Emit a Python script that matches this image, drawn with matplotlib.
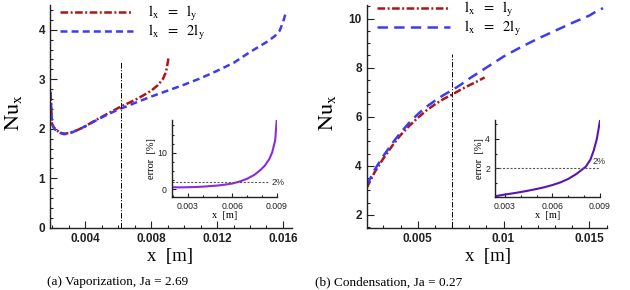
import matplotlib
matplotlib.use("Agg")
import matplotlib.pyplot as plt
from matplotlib.ticker import MultipleLocator, FixedLocator

plt.rcParams['font.family'] = ['Liberation Sans', 'DejaVu Sans']
plt.rcParams['mathtext.fontset'] = 'stix'
plt.rcParams['lines.scale_dashes'] = False

# ---------------- data: panel (a) vaporization ----------------
a_red_x = [0.00188, 0.00192, 0.00197, 0.0021, 0.0024, 0.0027, 0.003, 0.0035, 0.004, 0.0045,
           0.005, 0.0055, 0.006, 0.0065, 0.007, 0.0075, 0.008, 0.0084, 0.0087, 0.0089, 0.00905]
a_red_y = [2.72, 2.45, 2.1, 2.02, 1.93, 1.9, 1.91, 1.97, 2.05, 2.15,
           2.24, 2.33, 2.42, 2.5, 2.58, 2.67, 2.77, 2.88, 3.0, 3.15, 3.43]
a_blue_x = [0.00188, 0.00192, 0.00197, 0.0021, 0.0024, 0.0027, 0.003, 0.0035, 0.004, 0.0045,
            0.005, 0.0055, 0.006, 0.0065, 0.007, 0.008, 0.009, 0.01, 0.011, 0.012, 0.013,
            0.014, 0.015, 0.0155, 0.0158, 0.016, 0.0162]
a_blue_y = [2.75, 2.45, 2.1, 2.0, 1.92, 1.89, 1.9, 1.97, 2.05, 2.14,
            2.23, 2.31, 2.39, 2.45, 2.52, 2.65, 2.77, 2.89, 3.02, 3.17, 3.33,
            3.55, 3.75, 3.87, 3.98, 4.15, 4.37]
a_err_x = [0.00192, 0.0025, 0.003, 0.0035, 0.004, 0.0045, 0.005, 0.0055, 0.006, 0.0065,
           0.007, 0.0075, 0.0079, 0.0082, 0.0085, 0.0087, 0.0089, 0.009]
a_err_y = [0.6, 0.55, 0.6, 0.65, 0.75, 0.9, 1.05, 1.3, 1.6, 2.15,
           2.9, 4.0, 5.3, 6.5, 8.3, 10.2, 13.5, 18.9]
a_vline = 0.00618
a_caption = "(a) Vaporization, Ja = 2.69"

# ---------------- data: panel (b) condensation ----------------
b_red_x = [0.00203, 0.0025, 0.003, 0.0035, 0.004, 0.0045, 0.005, 0.0055, 0.006, 0.0065,
           0.007, 0.0075, 0.008, 0.0085, 0.0089]
b_red_y = [3.1, 3.75, 4.3, 4.8, 5.25, 5.62, 5.95, 6.25, 6.5, 6.72,
           6.9, 7.1, 7.28, 7.45, 7.6]
b_blue_x = [0.00203, 0.0025, 0.003, 0.0035, 0.004, 0.0045, 0.005, 0.0055, 0.006, 0.0065,
            0.007, 0.0075, 0.008, 0.009, 0.01, 0.011, 0.012, 0.013, 0.014, 0.015, 0.0155, 0.0158]
b_blue_y = [3.2, 3.85, 4.4, 4.9, 5.35, 5.75, 6.1, 6.4, 6.65, 6.88,
            7.08, 7.3, 7.55, 8.0, 8.45, 8.83, 9.18, 9.5, 9.82, 10.12, 10.33, 10.42]
b_err_x = [0.00237, 0.003, 0.0035, 0.004, 0.0045, 0.005, 0.0055, 0.006, 0.0065, 0.007,
           0.0075, 0.0078, 0.0081, 0.0084, 0.0086, 0.0088, 0.009]
b_err_y = [0.08, 0.2, 0.28, 0.37, 0.47, 0.58, 0.7, 0.85, 1.03, 1.27,
           1.6, 1.85, 2.1, 2.6, 3.2, 4.0, 5.26]
b_vline = 0.00698
b_caption = "(b) Condensation, Ja = 0.27"

labels = [r'$\mathrm{l_x\ \ =\ \ l_y}$', r'$\mathrm{l_x\ \ =\ \ 2l_y}$']
threshold = 2.0

RED = '#b01414'
BLUE = '#3c3cf0'
TICK_COLOR = '#222222'

W, H = 630, 290
fig = plt.figure(figsize=(6.3, 2.9), dpi=100)


def rect(l, r, t, b):
    return [l / W, 1 - b / H, (r - l) / W, (b - t) / H]


def style_axes(ax, fs, major_len, minor_len, bold=False):
    for s in ('top', 'right'):
        ax.spines[s].set_visible(False)
    for s in ('left', 'bottom'):
        ax.spines[s].set_linewidth(1.0)
        ax.spines[s].set_color('#222222')
    ax.tick_params(which='both', direction='in', top=False, right=False,
                   labelsize=fs, colors=TICK_COLOR, width=0.8)
    ax.tick_params(which='major', length=major_len)
    ax.tick_params(which='minor', length=minor_len)
    if bold:
        for lab in ax.get_xticklabels() + ax.get_yticklabels():
            lab.set_fontweight('bold')


serif = ['Liberation Serif', 'DejaVu Serif']

# ================= panel (a) =================
ax1 = fig.add_axes(rect(50, 292, 5, 227.7))
ax1.plot(a_red_x, a_red_y, color=RED, lw=1.8, dashes=(5.5, 1.8, 1.4, 1.8), label=labels[0])
ax1.plot(a_blue_x, a_blue_y, color=BLUE, lw=1.8, dashes=(5.0, 3.0), label=labels[1])
ax1.plot([a_vline, a_vline], [0, 3.35], color='black', lw=0.7, dashes=(4, 1.2, 0.8, 1.2))
ax1.set_xlim(0.00185, 0.01655)
ax1.set_ylim(0, 4.5)
ax1.xaxis.set_major_locator(FixedLocator([0.004, 0.008, 0.012, 0.016]))
ax1.xaxis.set_minor_locator(MultipleLocator(0.001))
ax1.yaxis.set_major_locator(MultipleLocator(1))
ax1.yaxis.set_minor_locator(MultipleLocator(0.2))
ax1.set_xticklabels(['0.004', '0.008', '0.012', '0.016'])
ax1.set_yticks([0, 1, 2, 3, 4])
ax1.set_yticklabels(['0', '1', '2', '3', '4'])
style_axes(ax1, 8.5, 5, 2.5, bold=True)
ax1.legend(loc='upper left', bbox_to_anchor=(60 / W, 1 - 4 / H), bbox_transform=fig.transFigure,
           frameon=False, borderpad=0, borderaxespad=0, handlelength=5.0, handletextpad=1.0,
           labelspacing=0.0, prop={'size': 10.5})
fig.text(13 / W, 1 - 113 / H, r'$\mathrm{Nu_x}$', rotation=90, ha='center', va='center', fontsize=16)
fig.text(170 / W, 1 - 257 / H, 'x  [m]', family=serif, ha='center', va='center', fontsize=13.5)
fig.text(118 / W, 1 - 276 / H, a_caption, family=serif, ha='center', va='top', fontsize=9.5)

ins1 = fig.add_axes(rect(171.7, 276.7, 120, 196.7))
ins1.plot(a_err_x, a_err_y, color='#8a2be2', lw=1.5)
ins1.plot([0.00192, 0.0085], [threshold, threshold], color='#555555', lw=0.8, dashes=(1.5, 1.2))
ins1.text(0.00863, threshold, '2%', fontsize=6.5, color='#333333', va='center', ha='left', clip_on=False)
ins1.set_xlim(0.00192, 0.009)
ins1.set_ylim(-2, 19)
ins1.xaxis.set_major_locator(FixedLocator([0.003, 0.006, 0.009]))
ins1.xaxis.set_minor_locator(MultipleLocator(0.001))
ins1.yaxis.set_major_locator(FixedLocator([0, 10]))
ins1.yaxis.set_minor_locator(MultipleLocator(2.5))
ins1.set_xticklabels(['0.003', '0.006', '0.009'])
ins1.set_yticklabels(['0', '10'])
style_axes(ins1, 6.3, 3, 1.5)
ins1.set_xlabel('x  [m]', family=serif, fontsize=7.5, labelpad=0)
ins1.set_ylabel('error  [%]', family=serif, fontsize=7.5, labelpad=1)

# ================= panel (b) =================
ax2 = fig.add_axes(rect(366.7, 606.7, 5, 227.7))
ax2.plot(b_red_x, b_red_y, color=RED, lw=1.8, dashes=(5.5, 1.8, 1.4, 1.8), label=labels[0])
ax2.plot(b_blue_x, b_blue_y, color=BLUE, lw=1.8, dashes=(7.5, 4.5), label=labels[1])
ax2.plot([b_vline, b_vline], [1.5, 8.57], color='black', lw=0.7, dashes=(4, 1.2, 0.8, 1.2))
ax2.set_xlim(0.00203, 0.01601)
ax2.set_ylim(1.48, 10.55)
ax2.xaxis.set_major_locator(FixedLocator([0.005, 0.01, 0.015]))
ax2.xaxis.set_minor_locator(MultipleLocator(0.001))
ax2.yaxis.set_major_locator(FixedLocator([2, 4, 6, 8, 10]))
ax2.yaxis.set_minor_locator(MultipleLocator(0.5))
ax2.set_xticklabels(['0.005', '0.01', '0.015'])
ax2.set_yticklabels(['2', '4', '6', '8', '10'])
style_axes(ax2, 8.5, 5, 2.5, bold=True)
ax2.legend(loc='upper left', bbox_to_anchor=(376.7 / W, 1 - 0 / H), bbox_transform=fig.transFigure,
           frameon=False, borderpad=0, borderaxespad=0, handlelength=5.0, handletextpad=1.0,
           labelspacing=0.0, prop={'size': 10.5})
fig.text(328 / W, 1 - 113 / H, r'$\mathrm{Nu_x}$', rotation=90, ha='center', va='center', fontsize=16)
fig.text(488 / W, 1 - 257 / H, 'x  [m]', family=serif, ha='center', va='center', fontsize=13.5)
fig.text(388.5 / W, 1 - 276 / H, b_caption, family=serif, ha='center', va='top', fontsize=9.5)

ins2 = fig.add_axes(rect(495, 600, 120, 196.7))
ins2.plot(b_err_x, b_err_y, color='#5a14b4', lw=1.5)
ins2.plot([0.00237, 0.009], [threshold, threshold], color='#555555', lw=0.8, dashes=(1.5, 1.2))
ins2.text(0.00855, threshold + 0.12, '2%', fontsize=6.5, color='#333333', va='bottom', ha='left', clip_on=False)
ins2.set_xlim(0.00237, 0.009)
ins2.set_ylim(0.05, 5.3)
ins2.xaxis.set_major_locator(FixedLocator([0.003, 0.006, 0.009]))
ins2.xaxis.set_minor_locator(MultipleLocator(0.001))
ins2.yaxis.set_major_locator(FixedLocator([2, 4]))
ins2.yaxis.set_minor_locator(MultipleLocator(1))
ins2.set_xticklabels(['0.003', '0.006', '0.009'])
ins2.set_yticklabels(['2', '4'])
style_axes(ins2, 6.3, 3, 1.5)
ins2.set_xlabel('x  [m]', family=serif, fontsize=7.5, labelpad=0)
ins2.set_ylabel('error  [%]', family=serif, fontsize=7.5, labelpad=1)

fig.savefig('out.png', dpi=100)
